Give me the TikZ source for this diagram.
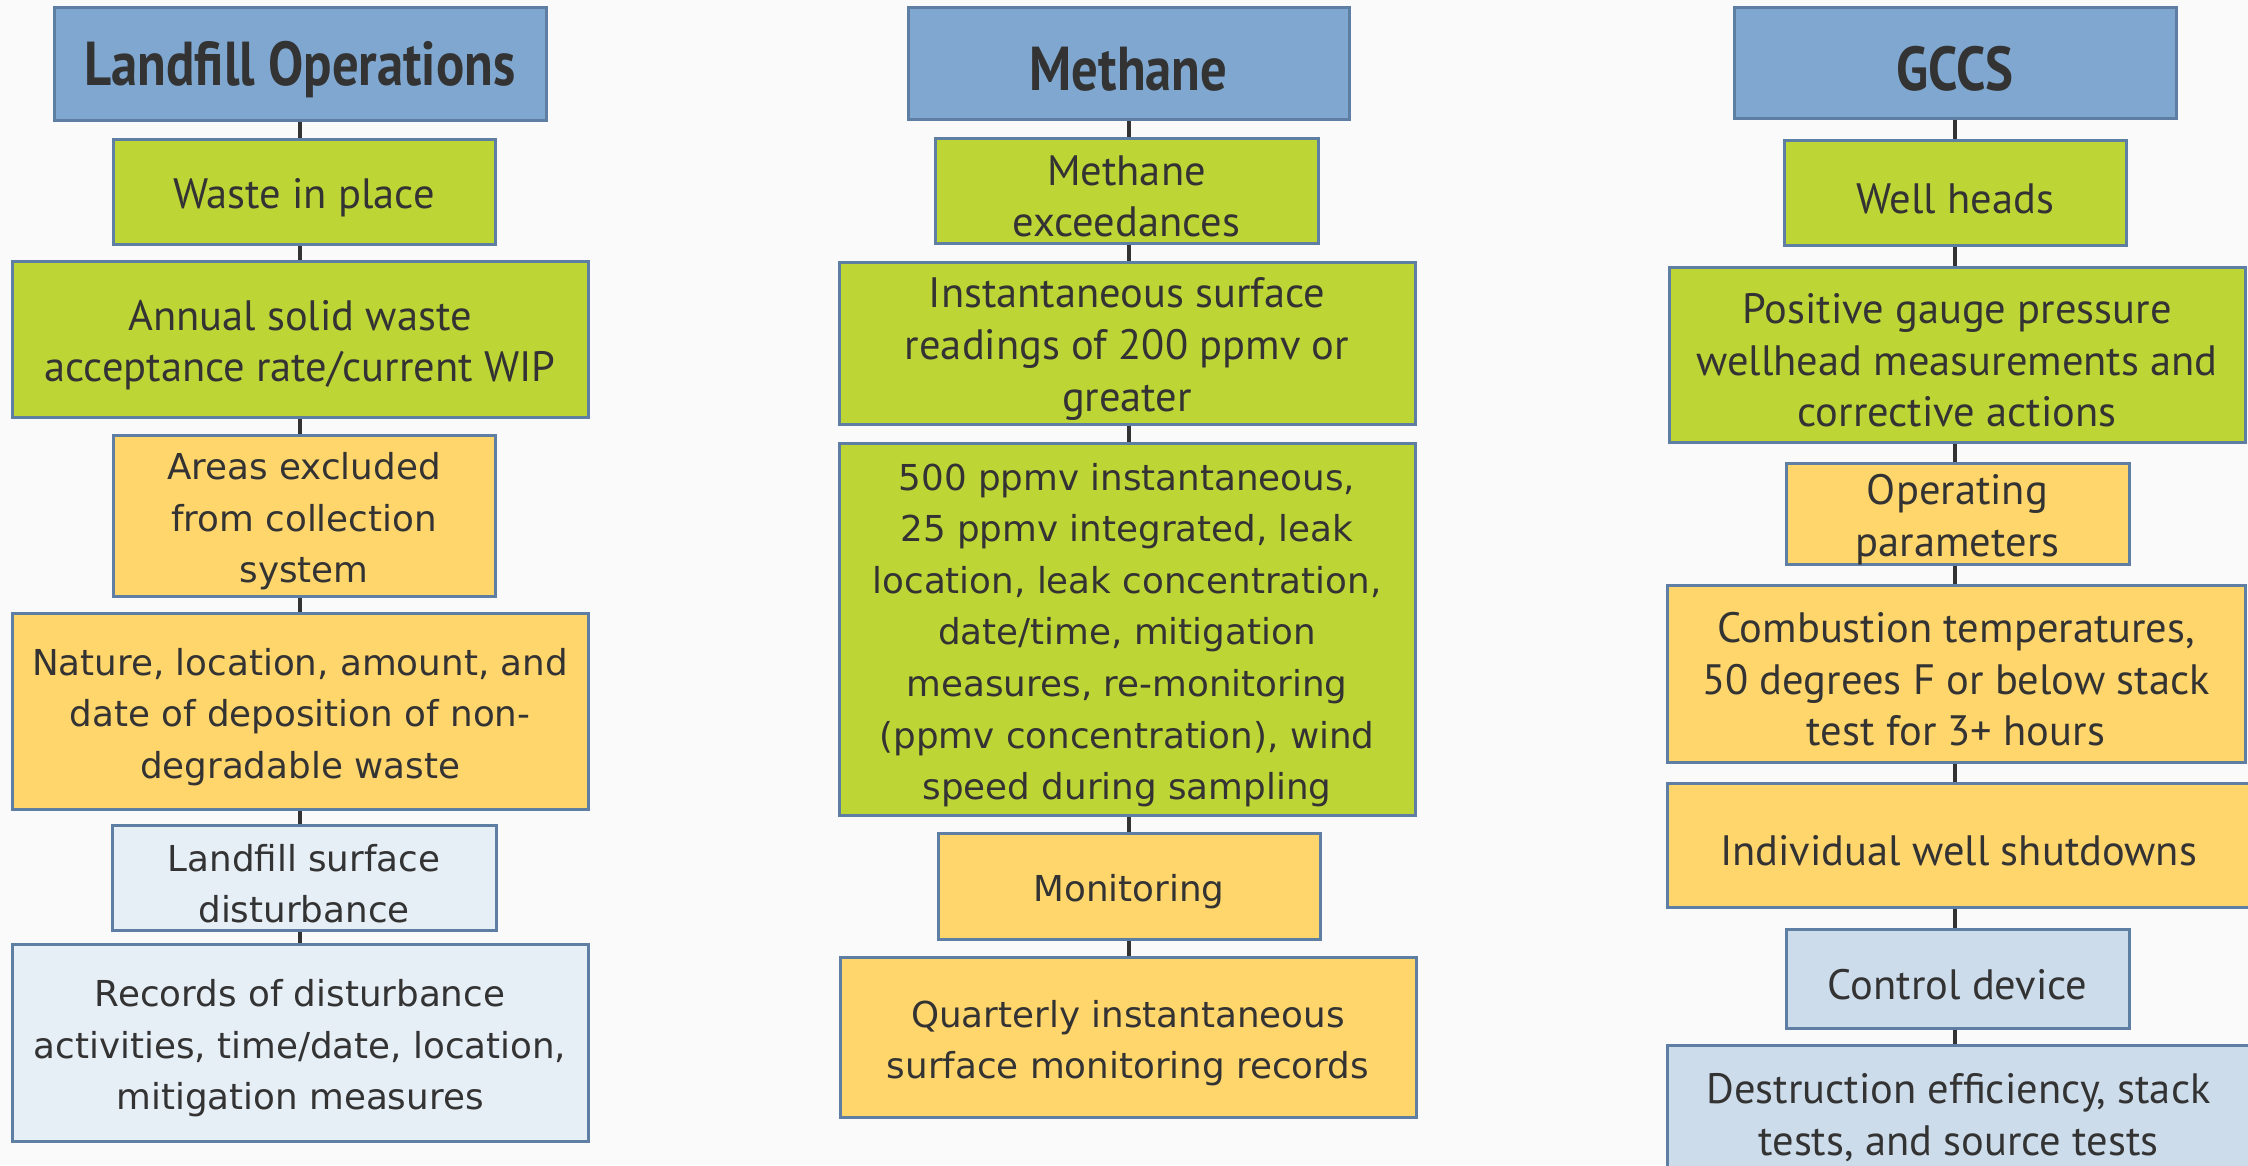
\documentclass[tikz,border=0pt]{standalone}
\usepackage{fontspec}
\newfontfamily\nar{PT Sans}
\newfontfamily\wid{DejaVu Sans}
\newfontfamily\hdf{PT Sans}[FakeStretch=0.85]
\definecolor{bgc}{HTML}{FAFAFA}
\definecolor{bordc}{HTML}{5E7EA3}
\definecolor{hdc}{HTML}{7FA7CF}
\definecolor{grc}{HTML}{BDD636}
\definecolor{ylc}{HTML}{FFD66C}
\definecolor{lbc}{HTML}{E6EEF6}
\definecolor{mbc}{HTML}{CDDCEB}
\definecolor{txc}{HTML}{333333}
\definecolor{lnc}{HTML}{333333}
\tikzset{
  box/.style={draw=bordc, line width=3pt, inner sep=0pt, align=center, text=txc},
  hdbox/.style={box, fill=hdc, font=\hdf\bfseries\fontsize{62}{68}\selectfont},
  grn/.style={box, fill=grc, font=\nar\fontsize{42.5}{51.6}\selectfont},
  grw/.style={box, fill=grc, font=\wid\fontsize{35.7}{51.6}\selectfont},
  yln/.style={box, fill=ylc, font=\nar\fontsize{42.5}{51.6}\selectfont},
  ylw/.style={box, fill=ylc, font=\wid\fontsize{35.7}{51.6}\selectfont},
  lbw/.style={box, fill=lbc, font=\wid\fontsize{35.7}{51.6}\selectfont},
  mbn/.style={box, fill=mbc, font=\nar\fontsize{42.5}{51.6}\selectfont},
  conn/.style={draw=lnc, line width=4pt}
}
\newcommand\bx[7]{%
  \node[#6, minimum width={#4-#2}, minimum height={#5-#3}] (#1) at ({(#2+#4)/2},{(#3+#5)/2}) {};
  \node[#6, draw=none, fill=none, yshift=-6pt] (#1t) at (#1.center) {#7};}
\begin{document}
\begin{tikzpicture}[x=1pt,y=-1pt]
\useasboundingbox (0,0) rectangle (2248,1165);
\fill[bgc] (0,0) rectangle (2248,1165);
\clip (0,0) rectangle (2248,1165);
% column 1
\bx{h1}{54}{7}{546}{120}{hdbox}{Landfill Operations}
\bx{a1}{113}{139}{495}{244}{grn}{Waste in place}
\bx{a2}{12}{261}{588}{417}{grn}{Annual solid waste\\acceptance rate/current WIP}
\bx{a3}{113}{435}{495}{596}{ylw}{Areas excluded\\from collection\\system}
\bx{a4}{12}{613}{588}{809}{ylw}{Nature, location, amount, and\\date of deposition of non-\\degradable waste}
\bx{a5}{112}{825}{496}{930}{lbw}{Landfill surface\\disturbance}
\bx{a6}{12}{944}{588}{1141}{lbw}{Records of disturbance\\activities, time/date, location,\\mitigation measures}
% column 2
\bx{h2}{908}{7}{1349}{119}{hdbox}{Methane}
\bx{b1}{935}{138}{1318}{243}{grn}{Methane\\exceedances}
\bx{b2}{839}{262}{1415}{424}{grn}{Instantaneous surface\\readings of 200 ppmv or\\greater}
\bx{b3}{839}{443}{1415}{815}{grw}{500 ppmv instantaneous,\\25 ppmv integrated, leak\\location, leak concentration,\\date/time, mitigation\\measures, re-monitoring\\(ppmv concentration), wind\\speed during sampling}
\bx{b4}{938}{833}{1320}{939}{ylw}{Monitoring}
\bx{b5}{840}{957}{1416}{1117}{ylw}{Quarterly instantaneous\\surface monitoring records}
% column 3
\bx{h3}{1734}{7}{2176}{118}{hdbox}{GCCS}
\bx{c1}{1784}{140}{2126}{245}{grn}{Well heads}
\bx{c2}{1669}{267}{2245}{442}{grn}{Positive gauge pressure\\wellhead measurements and\\corrective actions}
\bx{c3}{1786}{463}{2129}{564}{yln}{Operating\\parameters}
\bx{c4}{1667}{585}{2245}{762}{yln}{Combustion temperatures,\\50 degrees F or below stack\\test for 3+ hours}
\bx{c5}{1667}{783}{2250}{907}{yln}{Individual well shutdowns}
\bx{c6}{1786}{929}{2129}{1028}{mbn}{Control device}
\bx{c7}{1667}{1045}{2250}{1178}{mbn}{Destruction efficiency, stack\\tests, and source tests}
% connectors
\draw[conn] (h1.south) -- (a1.north -| h1.south);
\draw[conn] (a1.south -| h1.south) -- (a2.north -| h1.south);
\draw[conn] (a2.south -| h1.south) -- (a3.north -| h1.south);
\draw[conn] (a3.south -| h1.south) -- (a4.north -| h1.south);
\draw[conn] (a4.south -| h1.south) -- (a5.north -| h1.south);
\draw[conn] (a5.south -| h1.south) -- (a6.north -| h1.south);
\draw[conn] (h2.south) -- (b1.north -| h2.south);
\draw[conn] (b1.south -| h2.south) -- (b2.north -| h2.south);
\draw[conn] (b2.south -| h2.south) -- (b3.north -| h2.south);
\draw[conn] (b3.south -| h2.south) -- (b4.north -| h2.south);
\draw[conn] (b4.south -| h2.south) -- (b5.north -| h2.south);
\draw[conn] (h3.south) -- (c1.north -| h3.south);
\draw[conn] (c1.south -| h3.south) -- (c2.north -| h3.south);
\draw[conn] (c2.south -| h3.south) -- (c3.north -| h3.south);
\draw[conn] (c3.south -| h3.south) -- (c4.north -| h3.south);
\draw[conn] (c4.south -| h3.south) -- (c5.north -| h3.south);
\draw[conn] (c5.south -| h3.south) -- (c6.north -| h3.south);
\draw[conn] (c6.south -| h3.south) -- (c7.north -| h3.south);
\end{tikzpicture}
\end{document}
